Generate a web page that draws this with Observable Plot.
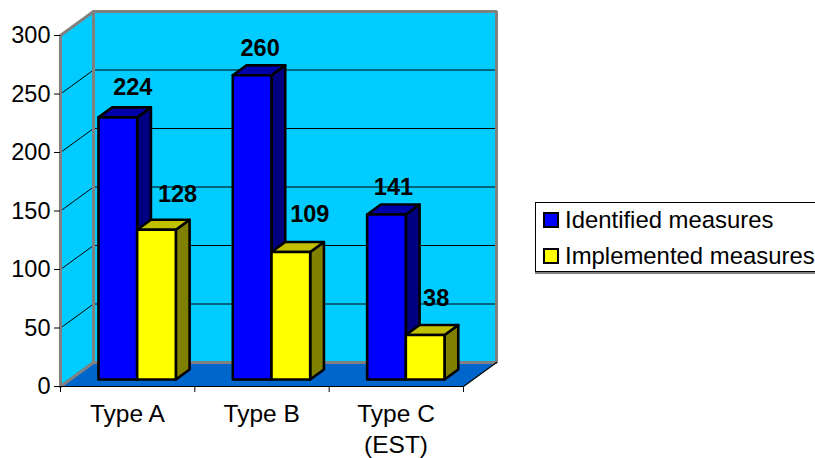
<!DOCTYPE html>
<html>
<head>
<meta charset="utf-8">
<script src="https://cdn.jsdelivr.net/npm/d3@7"></script>
<script src="https://cdn.jsdelivr.net/npm/@observablehq/plot@0.6"></script>
<style>
  html, body { margin: 0; padding: 0; background: #fff; overflow: hidden; }
  #wrap { position: relative; width: 815px; height: 458px; font-family: "Liberation Sans", Arial, sans-serif; color: #000; }
  #legend { position: absolute; left: 535px; top: 202px; width: 290px; height: 70px; box-sizing: border-box; border: 1px solid #000; box-shadow: 0 2px 0 #808080; background: #fff; font-size: 23.9px; }
  .row { position: absolute; left: 7px; display: flex; align-items: center; height: 24px; white-space: nowrap; }
  .swatch { width: 12px; height: 12px; border: 2px solid #000; margin-right: 6px; flex: none; }
</style>
</head>
<body>
<div id="wrap"></div>
<script>
const categories = ["Type A", "Type B", "Type C\n(EST)"];
const seriesNames = ["Identified measures", "Implemented measures"];
const identified = [224, 260, 141];
const implemented = [128, 109, 38];
const yTicks = [0, 50, 100, 150, 200, 250, 300];
const seriesValues = [identified, implemented];

// palette per series: front, side, top
const palette = [
  {front: "#0000FF", side: "#000080", top: "#0000AA"},
  {front: "#FFFF00", side: "#808000", top: "#C0C000"}
];

// Oblique projection of the 3D box, expressed in scale units
const depthX = 33 / 134.33, depthY = 24 / 1.17;
const proj = (u, v, d) => ({x: u + d * depthX, y: v + d * depthY});
const n = categories.length, vMax = 300;

const poly = (id, pts) => pts.map(p => ({id, ...proj(...p)}));
const walls = poly("wall", [[0,0,1],[n,0,1],[n,vMax,1],[0,vMax,1]])
  .concat(poly("side", [[0,0,0],[0,0,1],[0,vMax,1],[0,vMax,0]]));
const floor = poly("floor", [[0,0,0],[n,0,0],[n,0,1],[0,0,1]]);

const grid = yTicks.filter(v => v > 0 && v < vMax).flatMap(v =>
  poly("g" + v, [[0,v,0],[0,v,1],[n,v,1]]));
const border = [
  poly("b1", [[0,0,0],[0,vMax,0],[0,vMax,1],[n,vMax,1],[n,0,1],[0,0,1],[0,0,0]]),
  poly("b2", [[0,0,1],[0,vMax,1]])
].flat();
const floorEdge = poly("e", [[0,0,0],[n,0,0],[n,0,1]]);

// bars
const d0 = 7 / 24, d1 = 17 / 24, gap = 0.211, barW = 0.288;
const barMarks = [];
const labelNudge = [[[15,-30],[8,-27],[7,-27]], [[21,-35],[19,-38],[11,-36.5]]];
const labelMarks = [];
categories.forEach((c, i) => {
  seriesValues.forEach((vals, s) => {
    const v = vals[i], a = i + gap + s * barW, b = a + barW;
    const faces = [
      ["side", [[b,0,d0],[b,0,d1],[b,v,d1],[b,v,d0]]],
      ["top",  [[a,v,d0],[b,v,d0],[b,v,d1],[a,v,d1]]],
      ["front",[[a,0,d0],[b,0,d0],[b,v,d0],[a,v,d0]]]
    ];
    faces.forEach(([k, pts]) => {
      barMarks.push(Plot.line(poly(k, pts), {
        x: "x", y: "y", curve: "linear-closed",
        fill: palette[s][k], stroke: "#000", strokeWidth: 2.6, strokeLinejoin: "round"
      }));
    });
    const p = proj((a + b) / 2, v, d0);
    labelMarks.push(Plot.text([{...p, label: String(v)}], {
      x: "x", y: "y", text: "label",
      dx: labelNudge[s][i][0], dy: labelNudge[s][i][1],
      fontWeight: "bold", fontSize: 23.5, fill: "#000"
    }));
  });
});

const chart = Plot.plot({
  width: 815, height: 458,
  marginLeft: 60, marginRight: 319, marginTop: 11, marginBottom: 72,
  x: {domain: [0, n + depthX]},
  y: {domain: [0, vMax + depthY]},
  style: {fontFamily: '"Liberation Sans", Arial, sans-serif', background: "transparent", color: "#000"},
  marks: [
    Plot.line(walls, {x: "x", y: "y", z: "id", curve: "linear-closed", fill: "#00CCFF", stroke: "none"}),
    Plot.line(grid, {x: "x", y: "y", z: "id", stroke: "#000", strokeWidth: 1}),
    Plot.line(floor, {x: "x", y: "y", curve: "linear-closed", fill: "#0066CC", stroke: "none"}),
    Plot.line(border, {x: "x", y: "y", z: "id", stroke: "#808080", strokeWidth: 3, strokeLinejoin: "miter"}),
    Plot.line(floorEdge, {x: "x", y: "y", stroke: "#000", strokeWidth: 1.2}),
    ...barMarks,
    ...labelMarks,
    Plot.axisY({ticks: yTicks, tickSize: 6, tickPadding: 4, fontSize: 23.5, label: null, tickFormat: d => String(d), stroke: "#000"}),
    Plot.axisX({ticks: d3.range(n + 1), tickSize: 6, tickFormat: () => "", label: null, stroke: "#000"}),
    Plot.axisX({
      ticks: categories.map((c, i) => i + 0.5), tickSize: 0, tickPadding: 13, fontSize: 24.5, label: null,
      lineHeight: 1.27, dx: -0.3, tickFormat: d => categories[Math.floor(d)]
    })
  ]
});
const wrap = document.getElementById("wrap");
wrap.appendChild(chart);

const legend = document.createElement("div");
legend.id = "legend";
seriesNames.forEach((name, s) => {
  const row = document.createElement("div");
  row.className = "row";
  row.style.top = (s === 0 ? 5 : 41) + "px";
  const sw = document.createElement("span");
  sw.className = "swatch";
  sw.style.background = palette[s].front;
  row.appendChild(sw);
  row.appendChild(document.createTextNode(name));
  legend.appendChild(row);
});
wrap.appendChild(legend);
</script>
</body>
</html>
